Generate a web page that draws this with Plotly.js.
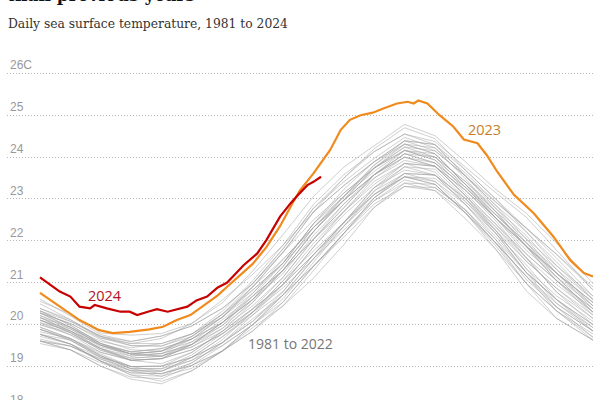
<!DOCTYPE html>
<html>
<head>
<meta charset="utf-8">
<script src="https://cdn.plot.ly/plotly-3.0.1.min.js"></script>
<style>
  html, body { margin: 0; padding: 0; background: #fff; overflow: hidden; width: 600px; height: 400px; }
  #chart { position: absolute; left: 0; top: -30px; width: 600px; height: 440px; }
</style>
</head>
<body>
<div id="chart"></div>
<script>
// ---- DATA ----
const grayDays = [1, 21, 41, 61, 81, 101, 121, 141, 161, 181, 201, 221, 241, 261, 281, 301, 321, 341, 365];

const sst1981 = [19.61, 19.49, 19.13, 18.80, 18.65, 18.90, 19.37, 20.00, 20.71, 21.39, 22.09, 22.80, 23.30, 23.27, 22.74, 21.95, 20.99, 20.15, 19.63];
const sst1982 = [19.61, 19.40, 19.01, 18.70, 18.59, 18.90, 19.37, 19.93, 20.45, 21.11, 21.91, 22.80, 23.38, 23.35, 22.67, 21.80, 20.81, 20.15, 19.63];
const sst1983 = [19.66, 19.49, 19.18, 18.95, 18.95, 19.15, 19.50, 20.00, 20.62, 21.48, 22.35, 23.11, 23.53, 23.35, 22.67, 21.95, 21.16, 20.51, 19.85];
const sst1984 = [19.61, 19.40, 19.01, 18.75, 18.71, 19.03, 19.50, 20.00, 20.54, 21.39, 22.18, 22.88, 23.30, 23.20, 22.67, 21.95, 21.16, 20.33, 19.63];
const sst1985 = [19.77, 19.54, 19.13, 18.85, 18.83, 19.03, 19.37, 19.85, 20.54, 21.39, 22.18, 23.03, 23.53, 23.35, 22.67, 21.88, 20.99, 20.33, 19.78];
const sst1986 = [19.61, 19.49, 19.18, 18.90, 18.77, 18.96, 19.37, 20.00, 20.71, 21.57, 22.26, 22.96, 23.46, 23.27, 22.74, 21.95, 21.16, 20.42, 19.70];
const sst1987 = [19.83, 19.67, 19.30, 19.00, 18.89, 19.15, 19.64, 20.30, 21.05, 21.76, 22.44, 23.11, 23.61, 23.57, 23.01, 22.25, 21.34, 20.51, 19.93];
const sst1988 = [19.77, 19.54, 19.13, 18.80, 18.77, 19.09, 19.57, 20.15, 20.71, 21.39, 22.18, 23.03, 23.61, 23.57, 22.87, 22.03, 21.08, 20.42, 19.85];
const sst1989 = [19.72, 19.54, 19.22, 19.00, 19.01, 19.22, 19.57, 20.08, 20.71, 21.57, 22.44, 23.19, 23.61, 23.42, 22.74, 22.03, 21.25, 20.60, 19.93];
const sst1990 = [19.89, 19.63, 19.22, 19.00, 19.01, 19.34, 19.84, 20.38, 20.96, 21.85, 22.62, 23.27, 23.69, 23.57, 23.01, 22.33, 21.60, 20.78, 20.00];
const sst1991 = [19.94, 19.67, 19.26, 19.00, 19.01, 19.22, 19.57, 20.08, 20.79, 21.67, 22.44, 23.27, 23.77, 23.57, 22.87, 22.10, 21.25, 20.60, 20.00];
const sst1992 = [19.55, 19.40, 19.09, 18.85, 18.83, 19.03, 19.37, 19.85, 20.45, 21.29, 22.18, 22.96, 23.38, 23.20, 22.53, 21.80, 20.99, 20.33, 19.70];
const sst1993 = [19.77, 19.63, 19.26, 18.95, 18.83, 19.09, 19.57, 20.23, 20.96, 21.67, 22.35, 23.03, 23.53, 23.49, 22.94, 22.18, 21.25, 20.42, 19.85];
const sst1994 = [19.89, 19.63, 19.22, 18.90, 18.89, 19.22, 19.71, 20.30, 20.88, 21.57, 22.35, 23.19, 23.77, 23.71, 23.01, 22.18, 21.25, 20.60, 20.00];
const sst1995 = [19.89, 19.67, 19.34, 19.15, 19.19, 19.40, 19.78, 20.30, 20.96, 21.85, 22.70, 23.42, 23.85, 23.64, 22.94, 22.25, 21.52, 20.87, 20.15];
const sst1996 = [19.77, 19.54, 19.13, 18.90, 18.89, 19.22, 19.71, 20.23, 20.79, 21.67, 22.44, 23.11, 23.53, 23.42, 22.87, 22.18, 21.43, 20.60, 19.85];
const sst1997 = [20.11, 19.81, 19.39, 19.15, 19.19, 19.40, 19.78, 20.30, 21.05, 21.94, 22.70, 23.50, 24.00, 23.78, 23.08, 22.33, 21.52, 20.87, 20.23];
const sst1998 = [20.05, 19.85, 19.51, 19.30, 19.25, 19.47, 19.91, 20.60, 21.39, 22.32, 22.97, 23.58, 24.08, 23.86, 23.28, 22.55, 21.87, 21.14, 20.30];
const sst1999 = [20.00, 19.81, 19.43, 19.15, 19.07, 19.34, 19.84, 20.53, 21.30, 22.04, 22.70, 23.35, 23.85, 23.78, 23.21, 22.48, 21.60, 20.78, 20.15];
const sst2000 = [19.94, 19.67, 19.26, 18.95, 18.95, 19.28, 19.78, 20.38, 20.96, 21.67, 22.44, 23.27, 23.85, 23.78, 23.08, 22.25, 21.34, 20.69, 20.08];
const sst2001 = [20.00, 19.76, 19.43, 19.25, 19.31, 19.53, 19.91, 20.45, 21.13, 22.04, 22.88, 23.58, 24.00, 23.78, 23.08, 22.40, 21.69, 21.05, 20.30];
const sst2002 = [20.11, 19.81, 19.39, 19.20, 19.25, 19.59, 20.12, 20.68, 21.30, 22.22, 22.97, 23.58, 24.00, 23.86, 23.28, 22.63, 21.96, 21.14, 20.30];
const sst2003 = [20.28, 19.94, 19.51, 19.30, 19.37, 19.59, 19.98, 20.53, 21.30, 22.22, 22.97, 23.74, 24.24, 24.00, 23.28, 22.55, 21.78, 21.14, 20.45];
const sst2004 = [20.17, 19.85, 19.43, 19.15, 19.19, 19.53, 20.05, 20.68, 21.30, 22.04, 22.79, 23.58, 24.16, 24.08, 23.35, 22.55, 21.69, 21.05, 20.38];
const sst2005 = [20.28, 20.03, 19.64, 19.40, 19.37, 19.66, 20.18, 20.90, 21.73, 22.50, 23.14, 23.74, 24.24, 24.15, 23.55, 22.85, 22.04, 21.23, 20.53];
const sst2006 = [20.28, 19.94, 19.51, 19.25, 19.31, 19.66, 20.18, 20.83, 21.47, 22.22, 22.97, 23.74, 24.31, 24.22, 23.48, 22.70, 21.87, 21.23, 20.53];
const sst2007 = [20.11, 19.85, 19.51, 19.35, 19.43, 19.66, 20.05, 20.60, 21.30, 22.22, 23.06, 23.74, 24.16, 23.93, 23.21, 22.55, 21.87, 21.23, 20.45];
const sst2008 = [20.05, 19.76, 19.34, 19.15, 19.19, 19.53, 20.05, 20.60, 21.22, 22.13, 22.88, 23.50, 23.92, 23.78, 23.21, 22.55, 21.87, 21.05, 20.23];
const sst2009 = [20.17, 19.85, 19.43, 19.20, 19.25, 19.47, 19.84, 20.38, 21.13, 22.04, 22.79, 23.58, 24.08, 23.86, 23.14, 22.40, 21.60, 20.96, 20.30];
const sst2010 = [20.28, 20.03, 19.68, 19.50, 19.49, 19.72, 20.18, 20.90, 21.73, 22.69, 23.32, 23.89, 24.39, 24.15, 23.55, 22.85, 22.22, 21.50, 20.60];
const sst2011 = [20.17, 19.94, 19.55, 19.30, 19.25, 19.53, 20.05, 20.75, 21.56, 22.32, 22.97, 23.58, 24.08, 24.00, 23.42, 22.70, 21.87, 21.05, 20.38];
const sst2012 = [20.33, 19.99, 19.55, 19.30, 19.37, 19.72, 20.25, 20.90, 21.56, 22.32, 23.06, 23.81, 24.39, 24.30, 23.55, 22.78, 21.96, 21.32, 20.60];
const sst2013 = [20.11, 19.90, 19.55, 19.35, 19.31, 19.53, 19.98, 20.68, 21.47, 22.41, 23.06, 23.66, 24.16, 23.93, 23.35, 22.63, 21.96, 21.23, 20.38];
const sst2014 = [20.22, 19.90, 19.47, 19.30, 19.37, 19.72, 20.25, 20.83, 21.47, 22.41, 23.14, 23.74, 24.16, 24.00, 23.42, 22.78, 22.13, 21.32, 20.45];
const sst2015 = [20.33, 19.99, 19.55, 19.35, 19.43, 19.66, 20.05, 20.60, 21.39, 22.32, 23.06, 23.81, 24.31, 24.08, 23.35, 22.63, 21.87, 21.23, 20.53];
const sst2016 = [20.33, 20.08, 19.72, 19.55, 19.55, 19.78, 20.25, 20.98, 21.81, 22.78, 23.41, 23.97, 24.47, 24.22, 23.62, 22.93, 22.31, 21.59, 20.68];
const sst2017 = [20.39, 20.12, 19.72, 19.50, 19.49, 19.78, 20.32, 21.05, 21.90, 22.69, 23.32, 23.89, 24.39, 24.30, 23.69, 23.00, 22.22, 21.41, 20.68];
const sst2018 = [20.22, 19.94, 19.60, 19.45, 19.55, 19.78, 20.18, 20.75, 21.47, 22.41, 23.23, 23.89, 24.31, 24.08, 23.35, 22.70, 22.04, 21.41, 20.60];
const sst2019 = [20.39, 20.08, 19.72, 19.60, 19.73, 19.97, 20.39, 20.98, 21.73, 22.69, 23.50, 24.13, 24.55, 24.30, 23.55, 22.93, 22.31, 21.68, 20.83];
const sst2020 = [20.50, 20.12, 19.68, 19.55, 19.67, 20.03, 20.59, 21.20, 21.90, 22.87, 23.58, 24.13, 24.55, 24.37, 23.76, 23.15, 22.57, 21.77, 20.83];
const sst2021 = [20.61, 20.21, 19.76, 19.60, 19.73, 19.97, 20.39, 20.98, 21.81, 22.78, 23.50, 24.20, 24.70, 24.44, 23.69, 23.00, 22.31, 21.68, 20.90];
const sst2022 = [20.56, 20.26, 19.80, 19.75, 19.79, 20.03, 20.52, 21.28, 22.15, 23.06, 23.76, 24.28, 24.78, 24.51, 23.89, 23.23, 22.66, 21.95, 20.98];

const grayYears = [1981,1982,1983,1984,1985,1986,1987,1988,1989,1990,1991,1992,1993,1994,1995,1996,1997,1998,1999,2000,2001,2002,2003,2004,2005,2006,2007,2008,2009,2010,2011,2012,2013,2014,2015,2016,2017,2018,2019,2020,2021,2022];
const grayValues = [sst1981,sst1982,sst1983,sst1984,sst1985,sst1986,sst1987,sst1988,sst1989,sst1990,sst1991,sst1992,sst1993,sst1994,sst1995,sst1996,sst1997,sst1998,sst1999,sst2000,sst2001,sst2002,sst2003,sst2004,sst2005,sst2006,sst2007,sst2008,sst2009,sst2010,sst2011,sst2012,sst2013,sst2014,sst2015,sst2016,sst2017,sst2018,sst2019,sst2020,sst2021,sst2022];

const days2023 = [1, 14, 27, 40, 49, 60, 73, 82, 91, 100, 108, 118, 124, 133, 141, 150, 159, 168, 172, 181, 192, 199, 205, 212, 220, 227, 236, 243, 247, 250, 256, 264, 273, 280, 289, 295, 302, 313, 326, 339, 350, 359, 365];
const sst2023 = [20.76, 20.43, 20.11, 19.87, 19.80, 19.83, 19.89, 19.95, 20.11, 20.23, 20.43, 20.70, 20.90, 21.20, 21.45, 21.85, 22.35, 22.95, 23.20, 23.61, 24.17, 24.65, 24.89, 25.00, 25.06, 25.16, 25.28, 25.32, 25.28, 25.35, 25.28, 25.00, 24.73, 24.42, 24.33, 24.05, 23.65, 23.10, 22.66, 22.10, 21.54, 21.23, 21.15];

const days2024 = [1, 8, 14, 21, 27, 34, 37, 45, 54, 60, 65, 72, 78, 85, 91, 98, 104, 111, 118, 124, 128, 135, 144, 150, 159, 166, 172, 177, 181, 184, 186];
const sst2024 = [21.13, 20.95, 20.79, 20.67, 20.43, 20.39, 20.47, 20.39, 20.31, 20.31, 20.23, 20.31, 20.37, 20.31, 20.37, 20.43, 20.58, 20.67, 20.89, 21.00, 21.15, 21.42, 21.70, 22.02, 22.58, 22.90, 23.14, 23.33, 23.41, 23.49, 23.53];

const yTickVals = [18, 19, 20, 21, 22, 23, 24, 25, 26];
const yTickText = ['18', '19', '20', '21', '22', '23', '24', '25', '26C'];

const titleText = 'than previous years';
const subtitleText = 'Daily sea surface temperature, 1981 to 2024';
const label2024 = '2024';
const label2023 = '2023';
const labelGray = '1981 to 2022';

// ---- CHART ----
const traces = grayValues.map((vals, i) => ({
  x: grayDays, y: vals, type: 'scatter', mode: 'lines',
  name: String(grayYears[i]),
  line: { color: 'rgba(160,160,160,0.5)', width: 1 },
  hoverinfo: 'skip', showlegend: false
}));
traces.push({
  x: days2023, y: sst2023, type: 'scatter', mode: 'lines', name: '2023',
  line: { color: '#f08a1c', width: 2.2 }, showlegend: false
});
traces.push({
  x: days2024, y: sst2024, type: 'scatter', mode: 'lines', name: '2024',
  line: { color: '#c70000', width: 2.2 }, showlegend: false
});

const layout = {
  width: 600, height: 440,
  margin: { l: 7, r: 5, t: 82, b: 0 },
  paper_bgcolor: '#ffffff', plot_bgcolor: '#ffffff',
  showlegend: false,
  title: {
    text: '<b>' + titleText + '</b>',
    x: 7 / 600, xref: 'container', xanchor: 'left',
    y: 1 - 31 / 440, yref: 'container', yanchor: 'bottom',
    font: { family: 'DejaVu Serif Condensed, DejaVu Serif, serif', size: 19, color: '#121212' }
  },
  xaxis: {
    range: [-20.72, 366.32], showgrid: false, zeroline: false,
    showticklabels: false, showline: false, ticks: '', fixedrange: true
  },
  yaxis: {
    range: [17.964, 26.508], tickvals: yTickVals, ticktext: yTickText,
    ticklabelposition: 'inside top', showgrid: true, gridcolor: '#b8b8b8',
    griddash: '1px,2px', gridwidth: 1, zeroline: false, showline: false, ticks: '',
    tickfont: { family: 'Liberation Sans, Arial, sans-serif', size: 12, color: '#999999' },
    fixedrange: true
  },
  annotations: [
    { text: subtitleText, xref: 'paper', yref: 'paper', x: 0, y: (440 - 62) / 358,
      xanchor: 'left', yanchor: 'bottom', showarrow: false, borderpad: 0,
      font: { family: 'DejaVu Serif Condensed, DejaVu Serif, serif', size: 13.7, color: '#333333' } },
    { text: label2024, xref: 'x', yref: 'y', x: 32, y: 20.69, xanchor: 'left', yanchor: 'middle',
      showarrow: false, borderpad: 0, font: { family: 'Open Sans, sans-serif', size: 14.5, color: '#b3121e' } },
    { text: label2023, xref: 'x', yref: 'y', x: 282, y: 24.67, xanchor: 'left', yanchor: 'middle',
      showarrow: false, borderpad: 0, font: { family: 'Open Sans, sans-serif', size: 14.5, color: '#c97f2a' } },
    { text: labelGray, xref: 'x', yref: 'y', x: 137, y: 19.56, xanchor: 'left', yanchor: 'middle',
      showarrow: false, borderpad: 0, font: { family: 'Open Sans, sans-serif', size: 14, color: '#767676' } }
  ]
};

Plotly.newPlot('chart', traces, layout, { displayModeBar: false, staticPlot: true });
</script>
</body>
</html>
